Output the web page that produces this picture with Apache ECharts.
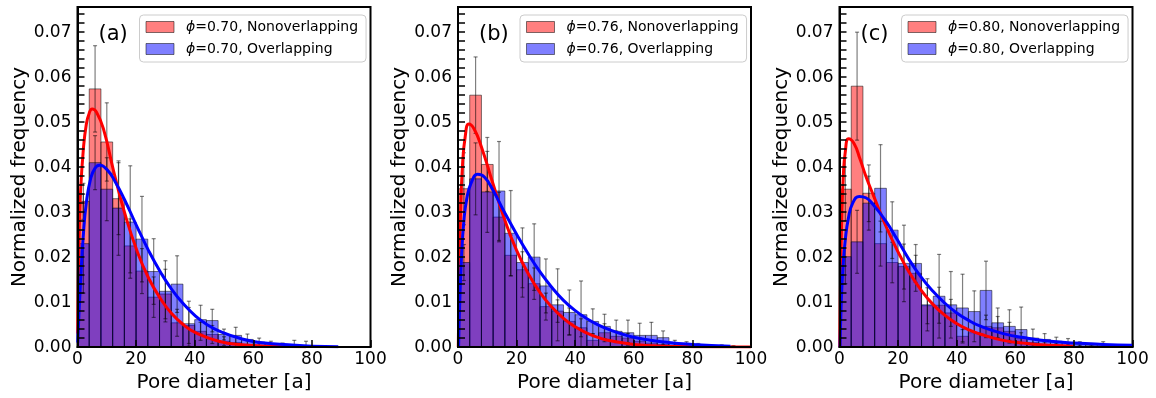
<!DOCTYPE html>
<html><head><meta charset="utf-8">
<script src="https://cdn.jsdelivr.net/npm/echarts@6/dist/echarts.min.js"></script>
<style>html,body{margin:0;padding:0;background:#fff}#c{width:1156px;height:398px}</style>
</head><body><div id="c"></div>
<script>
// ---------- data ----------
const binStarts = [0,4,8,12,16,20,24,28,32,36,40,44,48,52,56,60,64,68,72,76,80,84,88,92];
const binWidth = 4;
const panelLabels = ['(a)', '(b)', '(c)'];
const phiValues = ['0.70', '0.76', '0.80'];
const xTickStep = 20;

const redA = [0.0324,0.0574,0.0456,0.033,0.0225,0.0169,0.0111,0.0118,0.0054,0.0048,0.0035,0.0028,0.0013,0.0010,0.0006,0.0004,0.0002,0.0002,0.0001,0.0001];
const blueA = [0.023,0.041,0.0351,0.0309,0.0278,0.024,0.0168,0.0124,0.014,0.0052,0.0061,0.0059,0.0028,0.0026,0.0017,0.0011,0.0007,0.0004,0.0003,0.0002];
const redErrA = [0.004,0.0096,0.0087,0.008,0.006,0.005,0.0045,0.0055,0.003,0.004,0.002,0.002,0.001,0.0012,0.0008,0.0005,0.0004,0.0004,0.0003,0.0002];
const blueErrA = [0.011,0.006,0.007,0.0105,0.0125,0.0095,0.0073,0.0068,0.0063,0.005,0.0032,0.0025,0.0012,0.0018,0.0012,0.0009,0.0006,0.0005,0.0012,0.0011];

const redB = [0.0352,0.056,0.0406,0.0289,0.0204,0.0172,0.0141,0.009,0.008,0.0057,0.0043,0.0015,0.0032,0.0024,0.002,0.0013,0.0009,0.0006,0.0004,0.0003,0.0002,0.0001,0.0001,0.0001];
const blueB = [0.0188,0.0374,0.0345,0.0347,0.0253,0.0188,0.02,0.0136,0.0094,0.0077,0.0072,0.0057,0.0046,0.0035,0.0032,0.0026,0.0026,0.0021,0.0008,0.0006,0.0004,0.0002,0.0001,0.0001];
const redErrB = [0.008,0.0085,0.006,0.0055,0.0045,0.004,0.0035,0.003,0.0025,0.003,0.002,0.0015,0.002,0.0012,0.001,0.0008,0.0006,0.0004,0.0003,0.0002,0.0002,0.0001,0.0002,0.0001];
const blueErrB = [0.004,0.008,0.009,0.011,0.0095,0.0077,0.0074,0.006,0.008,0.005,0.0075,0.0028,0.0027,0.0025,0.0028,0.0027,0.0029,0.0015,0.0007,0.0006,0.0004,0.0003,0.0004,0.0002];

const redC = [0.0351,0.058,0.0342,0.023,0.0188,0.0179,0.0164,0.0092,0.0093,0.0076,0.0024,0.0032,0.0046,0.0043,0.0035,0.002,0.001,0.0006,0.0004,0.0003,0.0002,0.0001,0.0001];
const blueC = [0.0201,0.0234,0.032,0.0353,0.026,0.0186,0.0186,0.0094,0.0113,0.0094,0.0087,0.0079,0.0126,0.0054,0.0046,0.0039,0.002,0.0017,0.0013,0.001,0.0006,0.0004,0.0004];
const redErrC = [0.007,0.012,0.0063,0.005,0.0045,0.005,0.004,0.004,0.004,0.003,0.0015,0.002,0.0025,0.0025,0.002,0.0012,0.0008,0.0005,0.0004,0.0003,0.0002,0.0002,0.0002];
const blueErrC = [0.006,0.007,0.006,0.0097,0.0063,0.0085,0.0042,0.0058,0.0093,0.0074,0.0075,0.0046,0.0065,0.0033,0.0037,0.005,0.002,0.0013,0.0009,0.0009,0.0006,0.0004,0.0008];

const redFitA = [[0.1,0.003],[0.3,0.016],[0.6,0.026],[1,0.034],[2,0.044],[3,0.0495],[4,0.052],[5,0.0529],[6.5,0.0522],[8.9,0.0484],[12.3,0.0392],[16.1,0.0298],[20.3,0.0214],[24.3,0.0153],[28.3,0.0108],[32.2,0.0074],[36.3,0.0049],[40.3,0.0032],[48.2,0.0013],[56.2,0.0005],[65.7,0.0002],[78,0.0001]];
const blueFitA = [[0.1,0.001],[0.4,0.006],[1,0.014],[2,0.025],[3,0.032],[4.5,0.0375],[6,0.0398],[7.5,0.0404],[10,0.0395],[13,0.0366],[16.1,0.0327],[20.3,0.0268],[24.3,0.0214],[28.3,0.0167],[32.2,0.0128],[36.3,0.0095],[40.3,0.0069],[44,0.0051],[48.2,0.0036],[56.2,0.0018],[64,0.0009],[72,0.0005],[80,0.0002],[89,0.0001]];

const redFitB = [[0.1,0],[0.4,0.015],[0.8,0.028],[1.5,0.04],[2.5,0.047],[3.7,0.0496],[5.5,0.0485],[8,0.0445],[12,0.0362],[16,0.0282],[20,0.0215],[24,0.0163],[28,0.0121],[32,0.0089],[36,0.0064],[40,0.0045],[44,0.0031],[48,0.0021],[52,0.0014],[60,0.0006],[70,0.0002],[80,0.0001],[100,0]];
const blueFitB = [[0.2,0],[0.6,0.01],[1.2,0.02],[2,0.028],[3,0.033],[4.5,0.0365],[6.7,0.0384],[9,0.0378],[12,0.0348],[16,0.0298],[20,0.0251],[24,0.0207],[28,0.0167],[32,0.0133],[36,0.0104],[40,0.0081],[44,0.0063],[48,0.0049],[52,0.0038],[56,0.0029],[60,0.0022],[64,0.0017],[72,0.001],[80,0.0006],[93,0.0002]];

const redFitC = [[0.1,0],[0.3,0.012],[0.7,0.027],[1.3,0.038],[2,0.0435],[3.1,0.0463],[5,0.0452],[7,0.0418],[9,0.038],[11.7,0.0335],[15.7,0.0271],[19.8,0.0214],[23.8,0.0166],[27.8,0.0127],[31.9,0.0095],[35.9,0.0071],[39.8,0.0053],[43.9,0.0039],[47.9,0.0029],[55.9,0.0015],[64,0.0008],[72,0.0004],[80,0.0002]];
const blueFitC = [[0.2,0],[0.6,0.01],[1.2,0.018],[2,0.024],[3,0.0285],[4.5,0.032],[6.8,0.0335],[9,0.0332],[11.7,0.0315],[15.7,0.0281],[19.8,0.0238],[23.8,0.0194],[27.8,0.0156],[31.9,0.0124],[35.9,0.0098],[39.8,0.0077],[43.9,0.006],[47.9,0.0047],[55.9,0.003],[64,0.002],[72,0.0013],[80,0.0009],[90,0.0006],[100,0.0004]];

const redHist = [redA, redB, redC];
const blueHist = [blueA, blueB, blueC];
const redErr = [redErrA, redErrB, redErrC];
const blueErr = [blueErrA, blueErrB, blueErrC];
const redFit = [redFitA, redFitB, redFitC];
const blueFit = [blueFitA, blueFitB, blueFitC];

// ---------- layout / style ----------
const FONT = 'DejaVu Sans';
const PANEL_LEFT = [77.5, 458, 839.5];
const PANEL_W = 293, PANEL_TOP = 7, PANEL_H = 342.3;
const Y_MAX = 0.0756;
const RED_FILL = 'rgba(255,0,0,0.5)';
const BLUE_FILL = 'rgba(0,0,255,0.5)';
const EDGE = 'rgba(0,0,0,0.5)';
const ERR = 'rgba(0,0,0,0.5)';

function barItems(vals, errs) {
  return vals.map((v, k) => [binStarts[k], binStarts[k] + binWidth, v, errs[k]]);
}
function barRender(fill) {
  return function (params, api) {
    const p0 = api.coord([api.value(0), api.value(2)]);
    const p1 = api.coord([api.value(1), 0]);
    return { type: 'rect', shape: { x: p0[0], y: p0[1], width: p1[0] - p0[0], height: p1[1] - p0[1] },
      style: { fill: fill, stroke: EDGE, lineWidth: 1 } };
  };
}
function errRender(params, api) {
  const xc = (api.value(0) + api.value(1)) / 2;
  const v = api.value(2), e = api.value(3);
  const top = api.coord([xc, v + e]);
  const bot = api.coord([xc, Math.max(0, v - e)]);
  const st = { stroke: ERR, lineWidth: 1.2 };
  return { type: 'group', children: [
    { type: 'line', shape: { x1: top[0], y1: top[1], x2: bot[0], y2: bot[1] }, style: st },
    { type: 'line', shape: { x1: top[0] - 2, y1: top[1], x2: top[0] + 2, y2: top[1] }, style: st },
    { type: 'line', shape: { x1: bot[0] - 2, y1: bot[1], x2: bot[0] + 2, y2: bot[1] }, style: st }
  ] };
}

const grids = [], xAxes = [], yAxes = [], series = [], legends = [], titles = [];
for (let i = 0; i < 3; i++) {
  const redName = 'ϕ=' + phiValues[i] + ', Nonoverlapping';
  const blueName = 'ϕ=' + phiValues[i] + ', Overlapping';
  grids.push({ left: PANEL_LEFT[i], top: PANEL_TOP, width: PANEL_W, height: PANEL_H,
    show: true, borderColor: '#000', borderWidth: 2, backgroundColor: 'transparent' });
  xAxes.push({ gridIndex: i, type: 'value', min: 0, max: 100, interval: xTickStep, z: 5,
    name: 'Pore diameter [a]', nameLocation: 'middle', nameGap: 22,
    nameTextStyle: { fontFamily: FONT, fontSize: 20, color: '#000' },
    axisLine: { show: true, onZero: false, lineStyle: { color: '#000', width: 2 } },
    axisTick: { show: true, inside: true, length: 7, lineStyle: { color: '#000', width: 1.5 } },
    splitLine: { show: false },
    axisLabel: { fontFamily: FONT, fontSize: 17, color: '#000', margin: 4 } });
  yAxes.push({ gridIndex: i, type: 'value', min: 0, max: Y_MAX, interval: 0.002, z: 5,
    name: 'Normalized frequency', nameLocation: 'middle', nameGap: 47,
    nameTextStyle: { fontFamily: FONT, fontSize: 20, color: '#000' },
    axisLine: { show: true, lineStyle: { color: '#000', width: 2 } },
    axisTick: { show: true, inside: true, length: 7, lineStyle: { color: '#000', width: 1.5 } },
    splitLine: { show: false },
    axisLabel: { fontFamily: FONT, fontSize: 17, color: '#000', margin: 6, showMaxLabel: false,
      formatter: function (v) { const h = v * 100; return Math.abs(h - Math.round(h)) < 1e-6 ? v.toFixed(2) : ''; } } });
  series.push({ type: 'custom', name: redName, xAxisIndex: i, yAxisIndex: i, z: 2,
    itemStyle: { color: RED_FILL }, renderItem: barRender(RED_FILL), encode: { x: [0, 1], y: 2 },
    data: barItems(redHist[i], redErr[i]), silent: true });
  series.push({ type: 'custom', name: blueName, xAxisIndex: i, yAxisIndex: i, z: 2,
    itemStyle: { color: BLUE_FILL }, renderItem: barRender(BLUE_FILL), encode: { x: [0, 1], y: 2 },
    data: barItems(blueHist[i], blueErr[i]), silent: true });
  series.push({ type: 'custom', name: 'errR' + i, xAxisIndex: i, yAxisIndex: i, z: 3,
    renderItem: errRender, encode: { x: [0, 1], y: 2 }, data: barItems(redHist[i], redErr[i]), silent: true });
  series.push({ type: 'custom', name: 'errB' + i, xAxisIndex: i, yAxisIndex: i, z: 3,
    renderItem: errRender, encode: { x: [0, 1], y: 2 }, data: barItems(blueHist[i], blueErr[i]), silent: true });
  series.push({ type: 'line', name: 'fitR' + i, xAxisIndex: i, yAxisIndex: i, z: 4, data: redFit[i],
    smooth: 0.5, showSymbol: false, lineStyle: { color: '#ff0000', width: 3 }, silent: true });
  series.push({ type: 'line', name: 'fitB' + i, xAxisIndex: i, yAxisIndex: i, z: 4, data: blueFit[i],
    smooth: 0.5, showSymbol: false, lineStyle: { color: '#0000ff', width: 3 }, silent: true });
  legends.push({ orient: 'vertical', left: PANEL_LEFT[i] + 62, top: 15, icon: 'rect',
    itemWidth: 28, itemHeight: 11, itemGap: 8, selectedMode: false,
    backgroundColor: 'rgba(255,255,255,0.85)', borderColor: '#cccccc', borderWidth: 1, borderRadius: 4,
    padding: [5, 8, 6, 6],
    textStyle: { fontFamily: FONT, fontSize: 14, color: '#000', padding: [0, 0, 0, 7],
      rich: { i: { fontFamily: FONT, fontSize: 14, fontStyle: 'italic', color: '#000' } } },
    formatter: function (name) { return '{i|ϕ}' + name.slice(1); },
    data: [ { name: redName, itemStyle: { color: RED_FILL, borderColor: EDGE, borderWidth: 1 } },
            { name: blueName, itemStyle: { color: BLUE_FILL, borderColor: EDGE, borderWidth: 1 } } ] });
  titles.push({ text: panelLabels[i], left: PANEL_LEFT[i] + 21, top: 24, padding: 0,
    textStyle: { fontFamily: FONT, fontSize: 21, fontWeight: 'normal', color: '#000' } });
}

const chart = echarts.init(document.getElementById('c'), null, { renderer: 'canvas' });
chart.setOption({
  animation: false,
  backgroundColor: '#fff',
  title: titles,
  legend: legends,
  grid: grids,
  xAxis: xAxes,
  yAxis: yAxes,
  series: series
});
</script>
</body></html>
